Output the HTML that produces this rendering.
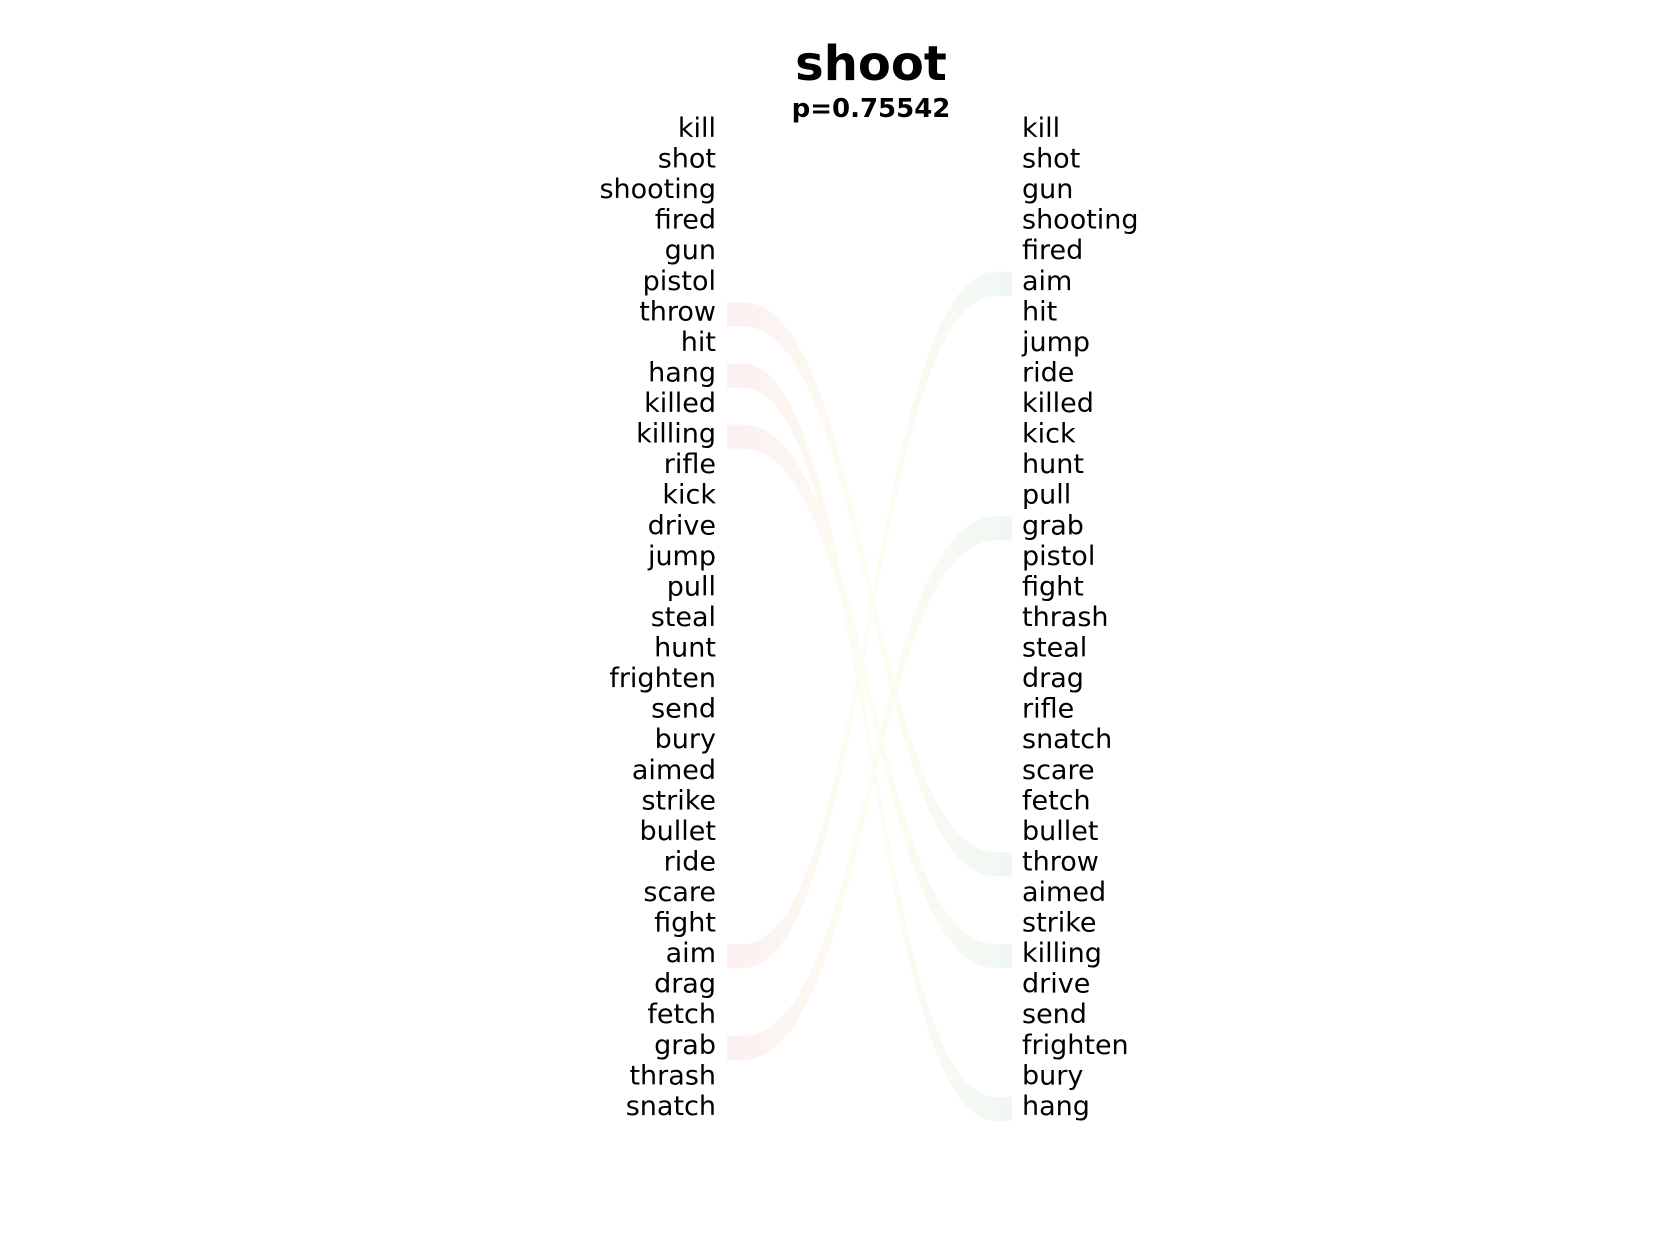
<!DOCTYPE html>
<html><head><meta charset="utf-8"><style>
body{margin:0;background:#fff;}
svg{display:block;}
text{font-family:"DejaVu Sans","Liberation Sans",sans-serif;}
</style></head><body>
<svg width="1680" height="1260" viewBox="0 0 1680 1260">
<defs>
<linearGradient id="rg" gradientUnits="userSpaceOnUse" x1="727" y1="0" x2="1012" y2="0">
<stop offset="0" stop-color="#fcf0f0"/><stop offset="0.5" stop-color="#fdfdf2"/><stop offset="1" stop-color="#f0f7f3"/>
</linearGradient>
</defs>
<text x="871" y="80" text-anchor="middle" font-size="48" font-weight="bold">shoot</text>
<text x="871" y="117" text-anchor="middle" font-size="26" font-weight="bold">p=0.75542</text>
<g id="ribbons"></g>
<g id="left"></g>
<g id="right"></g>
</svg>
<script>
const leftWords = ["kill","shot","shooting","fired","gun","pistol","throw","hit","hang","killed","killing","rifle","kick","drive","jump","pull","steal","hunt","frighten","send","bury","aimed","strike","bullet","ride","scare","fight","aim","drag","fetch","grab","thrash","snatch"];
const rightWords = ["kill","shot","gun","shooting","fired","aim","hit","jump","ride","killed","kick","hunt","pull","grab","pistol","fight","thrash","steal","drag","rifle","snatch","scare","fetch","bullet","throw","aimed","strike","killing","drive","send","frighten","bury","hang"];
const highlighted = ["throw","hang","killing","aim","grab"];

const NS = "http://www.w3.org/2000/svg";
const y0 = 137, step = 30.56;
function yRow(i){ return y0 + i*step; }
const xL = 716, xR = 1022, rx1 = 727, rx2 = 1012, band = 24;

const gl = document.getElementById('left'), gr = document.getElementById('right'), gb = document.getElementById('ribbons');
leftWords.forEach((w,i)=>{
  const t = document.createElementNS(NS,'text');
  t.setAttribute('x', xL); t.setAttribute('y', yRow(i)); t.setAttribute('text-anchor','end'); t.setAttribute('font-size','27');
  
  
  t.textContent = w; gl.appendChild(t);
});
rightWords.forEach((w,i)=>{
  const t = document.createElementNS(NS,'text');
  t.setAttribute('x', xR); t.setAttribute('y', yRow(i)); t.setAttribute('font-size','27');
  
  
  t.textContent = w; gr.appendChild(t);
});
function curve(a,b,off,rev){
  const ya = yRow(a)-18+off, yb = yRow(b)-18+off;
  const xm1 = rx1+16, xm2 = rx2-16, c = (xm2-xm1)*0.5;
  if(!rev) return `L${rx1},${ya} L${xm1},${ya} C${xm1+c},${ya} ${xm2-c},${yb} ${xm2},${yb} L${rx2},${yb}`;
  return `L${rx2},${yb} L${xm2},${yb} C${xm2-c},${yb} ${xm1+c},${ya} ${xm1},${ya} L${rx1},${ya}`;
}
highlighted.forEach(w=>{
  const a = leftWords.indexOf(w), b = rightWords.indexOf(w);
  const p = document.createElementNS(NS,'path');
  const d = 'M' + curve(a,b,0,false).slice(1) + ' ' + curve(a,b,band,true) + ' Z';
  p.setAttribute('d', d); p.setAttribute('fill','url(#rg)');
  
  
  gb.appendChild(p);
});
</script>
</body></html>
